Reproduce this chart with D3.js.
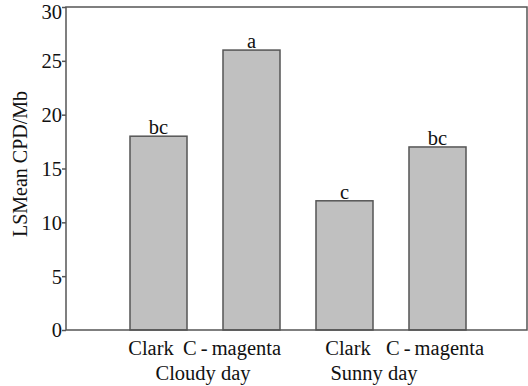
<!DOCTYPE html>
<html>
<head>
<meta charset="utf-8">
<script src="https://cdn.jsdelivr.net/npm/d3@7/dist/d3.min.js"></script>
<style>
  body { margin: 0; background: #fff; }
</style>
</head>
<body>
<svg id="chart" width="528" height="386"></svg>
<script>
// data
var cultivars = ['Clark', 'C\u2009-\u2009magenta', 'Clark', 'C\u2009-\u2009magenta'];
var groups = ['Cloudy day', 'Sunny day'];
var groupOf = [0, 0, 1, 1];
var lsmean = [18, 26, 12, 17];
var letters = ['bc', 'a', 'c', 'bc'];
var yTicks = [0, 5, 10, 15, 20, 25, 30];

var margin = {top: 7, right: 1, bottom: 56, left: 66},
    width = 528 - margin.left - margin.right,
    height = 386 - margin.top - margin.bottom;

var svg = d3.select('#chart')
var g = svg.append('g').attr('transform', 'translate(' + margin.left + ',' + margin.top + ')')

var serif = 'Liberation Serif, Times New Roman, serif'
var fs = 20.5

var x = d3.scaleBand()
    .domain(d3.range(lsmean.length))
    .range([0, width])
    .paddingInner(0.387)
    .paddingOuter(0.672)
    .align(0.512)

var y = d3.scaleLinear()
    .domain([0, 30])
    .range([height, 0])

// bars
g.selectAll('.bar')
    .data(lsmean)
    .enter()
    .append('rect')
    .attr('class', 'bar')
    .attr('x', (d, i) => x(i))
    .attr('y', d => y(d))
    .attr('width', x.bandwidth())
    .attr('height', d => height - y(d))
    .attr('fill', '#c0c0c0')
    .attr('stroke', '#555')
    .attr('stroke-width', 1.5)

// significance letters
g.selectAll('.sig')
    .data(letters)
    .enter()
    .append('text')
    .attr('x', (d, i) => x(i) + x.bandwidth() / 2)
    .attr('y', (d, i) => y(lsmean[i]) - 2)
    .attr('text-anchor', 'middle')
    .attr('font-family', serif)
    .attr('font-size', fs)
    .attr('fill', '#111')
    .text(d => d)

// frame
g.append('rect')
    .attr('width', width)
    .attr('height', height)
    .attr('fill', 'none')
    .attr('stroke', '#555')
    .attr('stroke-width', 1.5)

// Y-axis
var yAxis = d3.axisLeft(y)
    .tickValues(yTicks)
    .tickSize(4)
    .tickPadding(0)
    .tickFormat(d3.format('d'))

var ya = g.append('g').call(yAxis)
ya.select('.domain').remove()
ya.selectAll('line').attr('stroke', '#555').attr('stroke-width', 1.5)
ya.selectAll('text')
    .attr('font-family', serif)
    .attr('font-size', fs)
    .attr('fill', '#111')
    .attr('dy', d => d === 30 ? '0.55em' : '0.34em')

// small nudges so the labels sit where the original typeset them
var labelNudge = [-7.5, -19.5, 3.5, -2.5];
var groupNudge = [-2, -17];

g.selectAll('.cult')
    .data(cultivars)
    .enter()
    .append('text')
    .attr('x', (d, i) => x(i) + x.bandwidth() / 2 + labelNudge[i])
    .attr('y', height + 25)
    .attr('text-anchor', 'middle')
    .attr('font-family', serif)
    .attr('font-size', fs)
    .attr('fill', '#111')
    .text(d => d)

g.selectAll('.grp')
    .data(groups)
    .enter()
    .append('text')
    .attr('x', (d, k) => {
        var idx = d3.range(lsmean.length).filter(i => groupOf[i] === k)
        return d3.mean(idx, i => x(i) + x.bandwidth() / 2) + groupNudge[k]
    })
    .attr('y', height + 50)
    .attr('text-anchor', 'middle')
    .attr('font-family', serif)
    .attr('font-size', fs)
    .attr('fill', '#111')
    .text(d => d)

// y-axis label
svg.append('text')
    .attr('transform', 'rotate(-90)')
    .attr('x', -164)
    .attr('y', 27)
    .attr('text-anchor', 'middle')
    .attr('font-family', serif)
    .attr('font-size', 20)
    .attr('fill', '#111')
    .text('LSMean CPD/Mb')
</script>
</body>
</html>
